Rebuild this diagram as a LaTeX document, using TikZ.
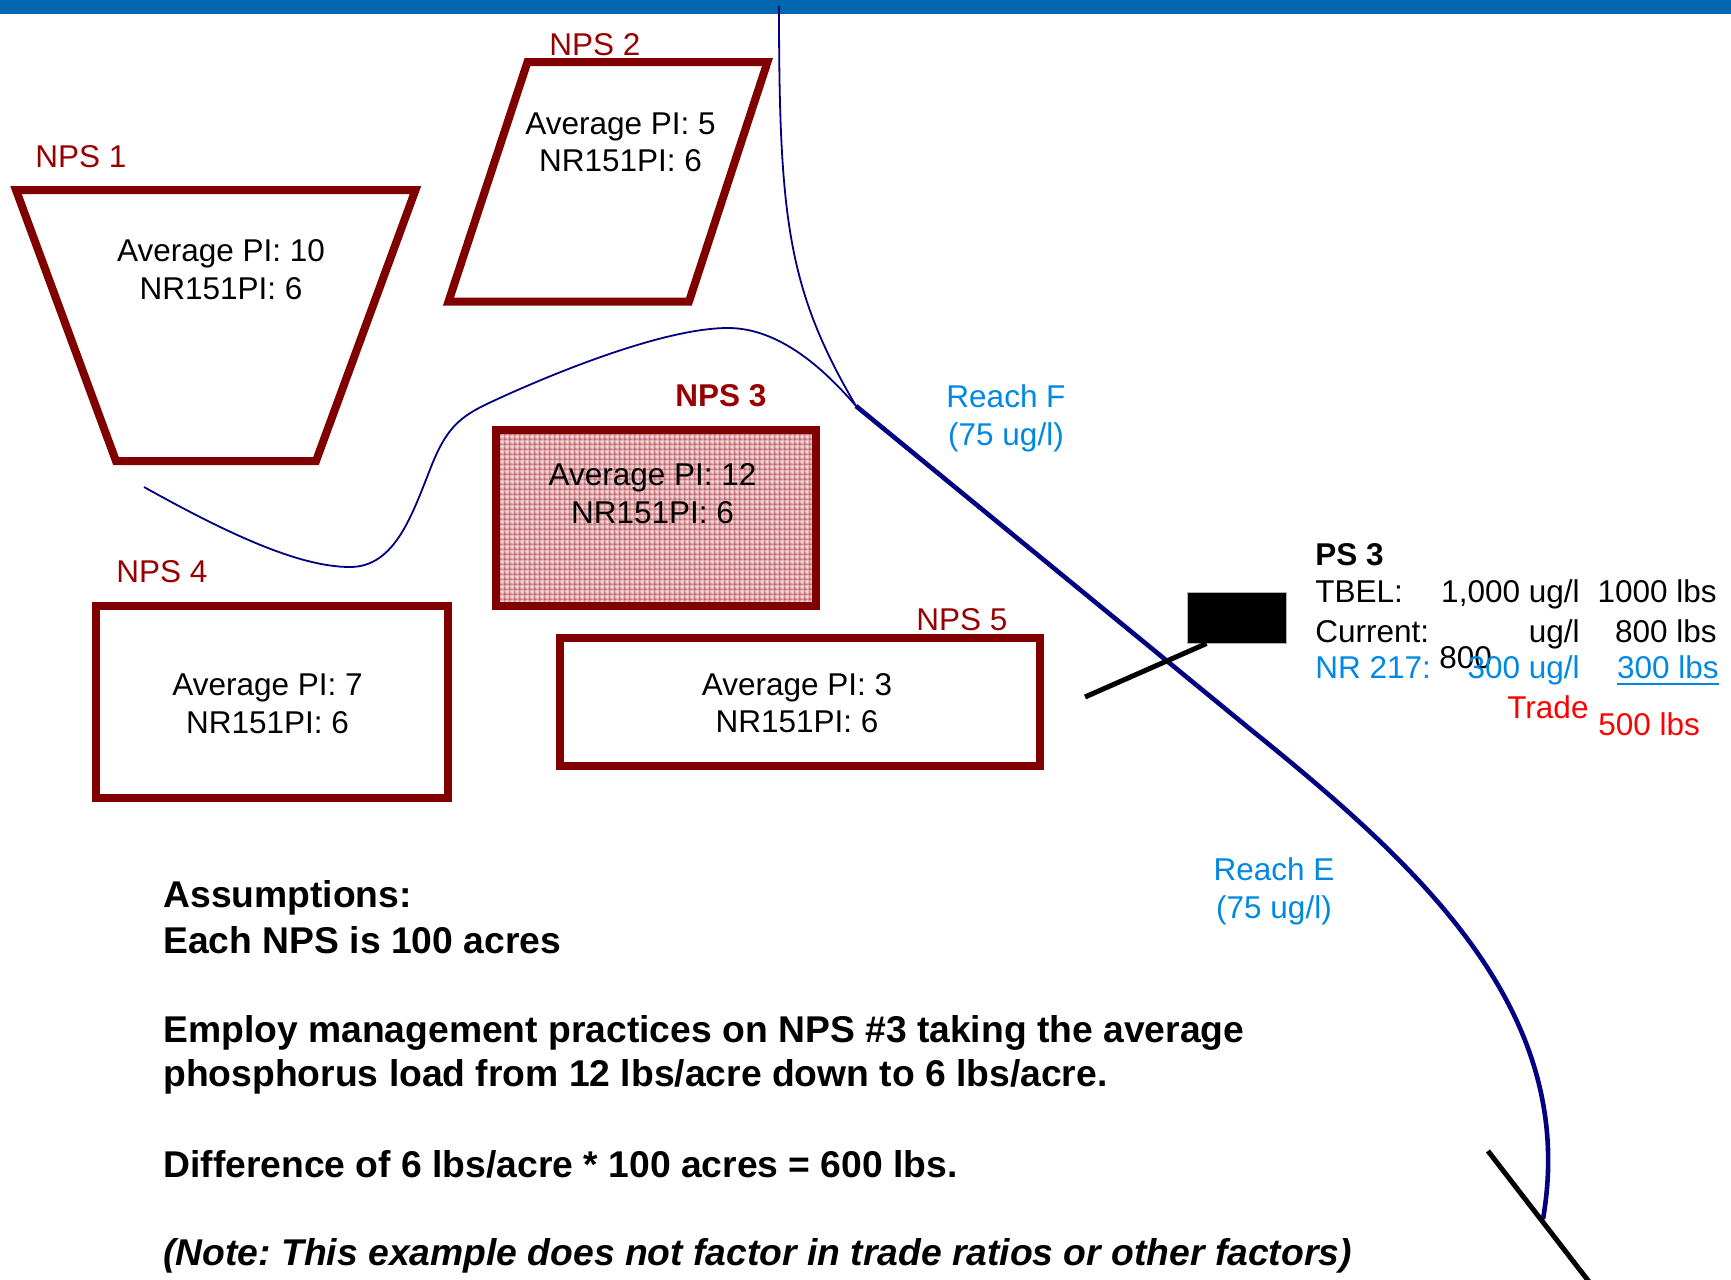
\documentclass[tikz,border=0pt]{standalone}
\usepackage{fontspec}
\setmainfont{Liberation Sans}
\usetikzlibrary{patterns}
\definecolor{npsred}{RGB}{128,0,0}
\definecolor{npslabelred}{RGB}{150,0,0}
\definecolor{river}{RGB}{0,0,128}
\definecolor{topbar}{RGB}{0,102,176}
\definecolor{reachblue}{RGB}{0,136,226}
\definecolor{hotfill}{RGB}{226,178,182}
\definecolor{hotgrid}{RGB}{170,40,50}
\definecolor{tradered}{RGB}{255,0,0}

% fine checked texture for the treated field
\pgfdeclarepatternformonly{checkdark}{\pgfpointorigin}{\pgfqpoint{2.6pt}{2.6pt}}{\pgfqpoint{2.6pt}{2.6pt}}{%
  \pgfsetlinewidth{0.35pt}%
  \pgfpathmoveto{\pgfqpoint{0pt}{0.5pt}}\pgfpathlineto{\pgfqpoint{2.6pt}{0.5pt}}%
  \pgfpathmoveto{\pgfqpoint{0.5pt}{0pt}}\pgfpathlineto{\pgfqpoint{0.5pt}{2.6pt}}%
  \pgfusepath{stroke}}
\pgfdeclarepatternformonly{checklight}{\pgfpointorigin}{\pgfqpoint{2.6pt}{2.6pt}}{\pgfqpoint{2.6pt}{2.6pt}}{%
  \pgfsetlinewidth{0.35pt}%
  \pgfpathmoveto{\pgfqpoint{0pt}{1.8pt}}\pgfpathlineto{\pgfqpoint{2.6pt}{1.8pt}}%
  \pgfpathmoveto{\pgfqpoint{1.8pt}{0pt}}\pgfpathlineto{\pgfqpoint{1.8pt}{2.6pt}}%
  \pgfusepath{stroke}}

\begin{document}
\frenchspacing
\begin{tikzpicture}[x=0.5pt,y=-0.5pt,
  npsbox/.style={draw=npsred,line width=4pt,line join=miter},
  npstext/.style={inner sep=0pt,align=center,font=\fontsize{15.75}{18.8}\selectfont},
  npslabel/.style={inner sep=0pt,anchor=base west,text=npslabelred,font=\fontsize{15.75}{18.8}\selectfont},
  reach/.style={inner sep=0pt,align=center,text=reachblue,font=\fontsize{15.75}{18.7}\selectfont},
  thinriver/.style={draw=river,line width=0.9pt},
  thickriver/.style={draw=river,line width=2.3pt},
  outfall/.style={draw=black,line width=2.5pt},
  pstext/.style={inner sep=0pt,font=\fontsize{15.75}{18.8}\selectfont},
  note/.style={inner sep=0pt,anchor=base west,font=\fontsize{18.63}{22}\selectfont\bfseries}
]
\useasboundingbox (0,0) rectangle (1731,1280);

% header bar
\fill[topbar] (0,0) rectangle (1731,14);

% ---- rivers ----
\coordinate (conf) at (856,406);
\coordinate (srcN) at (779,6);
\coordinate (srcW) at (144,487);
\coordinate (mouth) at (1543,1219);
\draw[thinriver] (srcN) .. controls (779,220) and (788,290) .. (conf);
\draw[thinriver] (srcW) .. controls (230,535) and (300,567) .. (350,567)
  .. controls (395,567) and (412,515) .. (431,467)
  .. controls (446,429) and (459,417) .. (489,403)
  .. controls (540,379) and (660,328) .. (728,328)
  .. controls (780,328) and (825,370) .. (conf);
\draw[thickriver] (conf) -- (1250,729) .. controls (1421,867) and (1579,1012) .. (mouth);

% ---- NPS 1 ----
\coordinate (a1) at (16,190); \coordinate (a2) at (415.5,190);
\coordinate (a3) at (316,461); \coordinate (a4) at (116,461);
\draw[npsbox] (a1) -- (a2) -- (a3) -- (a4) -- cycle;
\node[npslabel] (l1) at (35,167) {NPS 1};
\node[npstext] (t1) at (221,269.5) {Average PI: 10\\NR151PI: 6};

% ---- NPS 2 ----
\coordinate (b1) at (527.5,62); \coordinate (b2) at (767.5,62);
\coordinate (b3) at (689,301.5); \coordinate (b4) at (448.5,301.5);
\draw[npsbox] (b1) -- (b2) -- (b3) -- (b4) -- cycle;
\node[npslabel] (l2) at (549,55) {NPS 2};
\node[npstext] (t2) at (620.5,142.3) {Average PI: 5\\NR151PI: 6};

% ---- NPS 3 (treated field) ----
\fill[hotfill] (496,430) rectangle (815.5,606);
\fill[pattern=checklight,pattern color=white] (496,430) rectangle (815.5,606);
\fill[pattern=checkdark,pattern color=hotgrid] (496,430) rectangle (815.5,606);
\draw[npsbox] (496,430) rectangle (815.5,606);
\node[npslabel,anchor=base,font=\fontsize{15.75}{18.8}\selectfont\bfseries] (l3) at (721,406) {NPS 3};
\node[npstext] (t3) at (652.5,493.5) {Average PI: 12\\NR151PI: 6};

% ---- NPS 4 ----
\draw[npsbox] (96,606) rectangle (448,797.5);
\node[npslabel] (l4) at (116,582) {NPS 4};
\node[npstext] (t4) at (267.5,703.7) {Average PI: 7\\NR151PI: 6};

% ---- NPS 5 ----
\draw[npsbox] (560,638) rectangle (1040,765.5);
\node[npslabel] (l5) at (916,630) {NPS 5};
\node[npstext] (t5) at (797,703) {Average PI: 3\\NR151PI: 6};

% ---- reach labels ----
\node[reach] (rf) at (1006,418.5) {Reach F\\(75 ug/l)};
\node[reach] (re) at (1274,891.5) {Reach E\\(75 ug/l)};

% ---- point source PS 3 ----
\node[draw=gray!60,line width=0.5pt,fill=black,minimum width=49.5pt,minimum height=25.5pt,inner sep=0pt] (ps) at (1236.5,617.5) {};
\coordinate (pipeend) at (1085,697);
\draw[outfall] (pipeend) -- ([xshift=10pt]ps.south west);
\coordinate (dsA) at (1488,1151);
\coordinate (dsB) at (1590,1283);
\draw[outfall] (dsA) -- (dsB);

\node[pstext,anchor=base west,font=\fontsize{15.75}{18.8}\selectfont\bfseries] (ps3) at (1315,565) {PS 3};
\node[pstext,anchor=base west] (tbel) at (1315,602) {TBEL:};
\node[pstext,anchor=base east] (tbelc) at (1580,602) {1,000 ug/l};
\node[pstext,anchor=base east] (tbell) at (1717,602) {1000 lbs};
\node[pstext,anchor=base west] (cur) at (1315,642) {Current:};
\node[pstext,anchor=base east] (curc) at (1580,642) {ug/l};
\node[pstext,anchor=base east] (curl) at (1717,642) {800 lbs};
\node[pstext,anchor=base west] (curv) at (1439,668) {800};
\node[pstext,anchor=base west,text=reachblue] (nr) at (1315,678) {NR 217:};
\node[pstext,anchor=base east,text=reachblue] (nrc) at (1580,678) {300 ug/l};
\node[pstext,anchor=base east,text=reachblue] (nrl) at (1719,678) {300 lbs};
\draw[reachblue,line width=1.1pt] ([yshift=-2.8pt]nrl.base west) -- ([yshift=-2.8pt]nrl.base east);
\node[pstext,anchor=base west,text=tradered] (tr) at (1507,718) {Trade};
\node[pstext,anchor=base west,text=tradered] (trl) at (1598,735) {500 lbs};

% ---- assumptions ----
\node[note] (n1) at (163,907) {Assumptions:};
\node[note] (n2) at (163,953) {Each NPS is 100 acres};
\node[note] (n3) at (163,1042) {Employ management practices on NPS \#3 taking the average};
\node[note] (n4) at (163,1086) {phosphorus load from 12 lbs/acre down to 6 lbs/acre.};
\node[note] (n5) at (163,1177) {Difference of 6 lbs/acre * 100 acres = 600 lbs.};
\node[note,font=\fontsize{18.63}{22}\selectfont\bfseries\itshape] (n6) at (163,1265) {(Note: This example does not factor in trade ratios or other factors)};
\end{tikzpicture}
\end{document}
